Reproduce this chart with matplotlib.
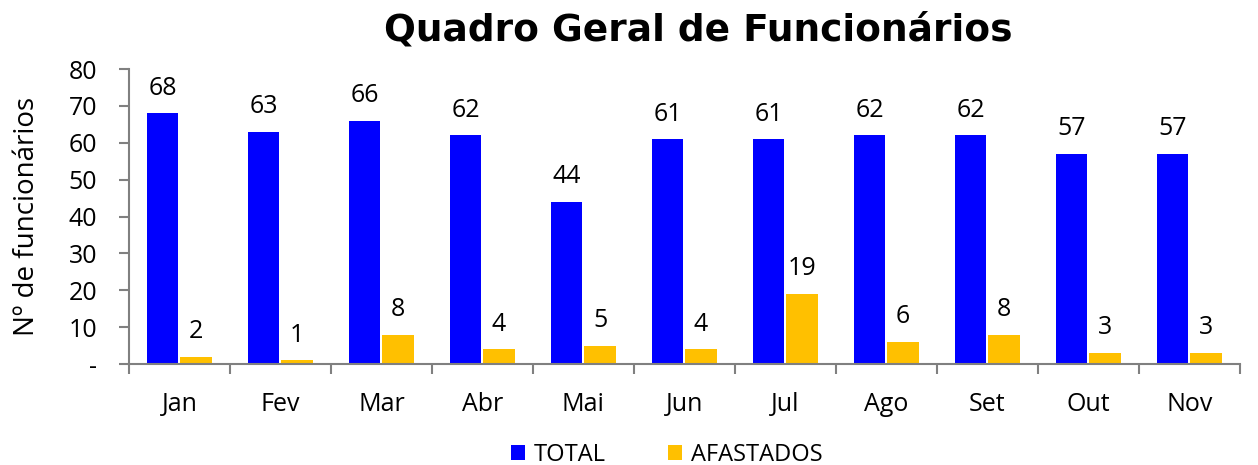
import numpy as np
import matplotlib.pyplot as plt

plt.rcParams['font.family'] = ['Open Sans', 'DejaVu Sans']

meses = ['Jan', 'Fev', 'Mar', 'Abr', 'Mai', 'Jun', 'Jul', 'Ago', 'Set', 'Out', 'Nov']
total = [68, 63, 66, 62, 44, 61, 61, 62, 62, 57, 57]
afastados = [2, 1, 8, 4, 5, 4, 19, 6, 8, 3, 3]

azul = '#0000FF'
amarelo = '#FFC000'
cinza = '#808080'

fig = plt.figure(figsize=(12.58, 4.65), dpi=100)
ax = fig.add_axes([0.1025, 0.2172, 0.883, 0.6344])

x = np.arange(len(meses))
w = 0.31
b1 = ax.bar(x - w / 2 - 0.01, total, w, color=azul, label='TOTAL')
b2 = ax.bar(x + w / 2 + 0.01, afastados, w, color=amarelo, label='AFASTADOS')

# rótulos de dados
for barras, valores in [(b1, total), (b2, afastados)]:
    for rect, v in zip(barras, valores):
        ax.annotate(str(v), (rect.get_x() + rect.get_width() / 2, v),
                    xytext=(0, 9), textcoords='offset points',
                    ha='center', va='bottom', fontsize=18)

ax.set_xlim(-0.5, len(meses) - 0.5)
ax.set_ylim(0, 80)
ax.set_yticks(range(0, 81, 10))
ax.set_yticklabels(['-'] + [str(v) for v in range(10, 81, 10)], fontsize=18)
ax.set_xticks(x)
ax.set_xticklabels(meses, fontsize=18)
ax.tick_params(axis='x', which='major', length=0, pad=20)
ax.set_xticks(np.arange(-0.5, len(meses), 1), minor=True)
ax.tick_params(axis='x', which='minor', length=7, color=cinza, width=1.5)
ax.tick_params(axis='y', length=7, color=cinza, width=1.5, pad=16)

for s in ['top', 'right']:
    ax.spines[s].set_visible(False)
for s in ['left', 'bottom']:
    ax.spines[s].set_color(cinza)
    ax.spines[s].set_linewidth(1.5)

ax.set_ylabel('Nº de funcionários', fontsize=20, labelpad=20)
fig.text(0.555, 0.935, 'Quadro Geral de Funcionários', fontsize=27, fontweight='bold',
         family='DejaVu Sans', ha='center', va='center')
fig.legend(loc='lower center', ncol=2, frameon=False, fontsize=17,
           bbox_to_anchor=(0.53, -0.05), handlelength=0.6, handleheight=0.6,
           columnspacing=2.6, handletextpad=0.4)

fig.savefig('out.png', dpi=100)
